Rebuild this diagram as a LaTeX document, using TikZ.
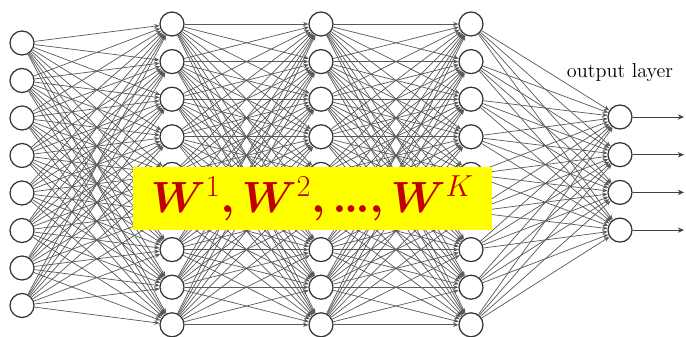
\documentclass[tikz,border=0pt]{standalone}
\usepackage{tikz}
\usetikzlibrary{arrows.meta,positioning}
\usepackage{amsmath,bm}
\definecolor{wred}{HTML}{C00000}
\definecolor{hiyellow}{HTML}{FFFF00}

\begin{document}
\begin{tikzpicture}[x=0.02cm, y=-0.02cm,
  neuron/.style={circle, draw=black!80, line width=0.7pt, fill=white, minimum size=0.48cm, inner sep=0pt},
  wgt/.style={-{Stealth[length=3pt, width=2.4pt]}, black!65, line width=0.4pt},
  outarr/.style={-{Stealth[length=3.5pt, width=3pt]}, black!75, line width=0.55pt},
  wbox/.style={rectangle, fill=hiyellow, text=wred, minimum width=7.18cm, minimum height=1.26cm, inner sep=0pt}
]
  \fill[white] (0,0) rectangle (686,336);
  \useasboundingbox (0,0) rectangle (686,336);

  % layers
  \foreach \i in {1,...,8}
    \node[neuron] (inp-\i) at (22, {43+37.5*(\i-1)}) {};
  \foreach \l/\x in {a/172, b/321, c/471}
    \foreach \j in {1,...,9}
      \node[neuron] (hid\l-\j) at (\x, {24+37.6*(\j-1)}) {};
  \foreach \k in {1,...,4}
    \node[neuron] (out-\k) at (620, {117+37.7*(\k-1)}) {};

  \node[font=\fontsize{11.5}{13}\selectfont] (outlbl) at (620,73) {output layer};

  % weights
  \foreach \i in {1,...,8}
    \foreach \j in {1,...,9}
      \draw[wgt] (inp-\i) -- (hida-\j);
  \foreach \s/\t in {a/b, b/c}
    \foreach \i in {1,...,9}
      \foreach \j in {1,...,9}
        \draw[wgt] (hid\s-\i) -- (hid\t-\j);
  \foreach \i in {1,...,9}
    \foreach \k in {1,...,4}
      \draw[wgt] (hidc-\i) -- (out-\k);

  % outputs
  \foreach \k in {1,...,4} {
    \coordinate (end-\k) at (684, {117+37.7*(\k-1)});
    \draw[outarr] (out-\k) -- (end-\k);
  }

  \node[wbox, font=\fontsize{24}{26}\selectfont] (weights) at (312.5,198.5)
    {$\bm{W}^{1}\bm{,}\bm{W}^{2}\bm{,}\bm{.}\mkern-1mu\bm{.}\mkern-1mu\bm{.}\bm{,}\bm{W}^{K}$};
\end{tikzpicture}
\end{document}
